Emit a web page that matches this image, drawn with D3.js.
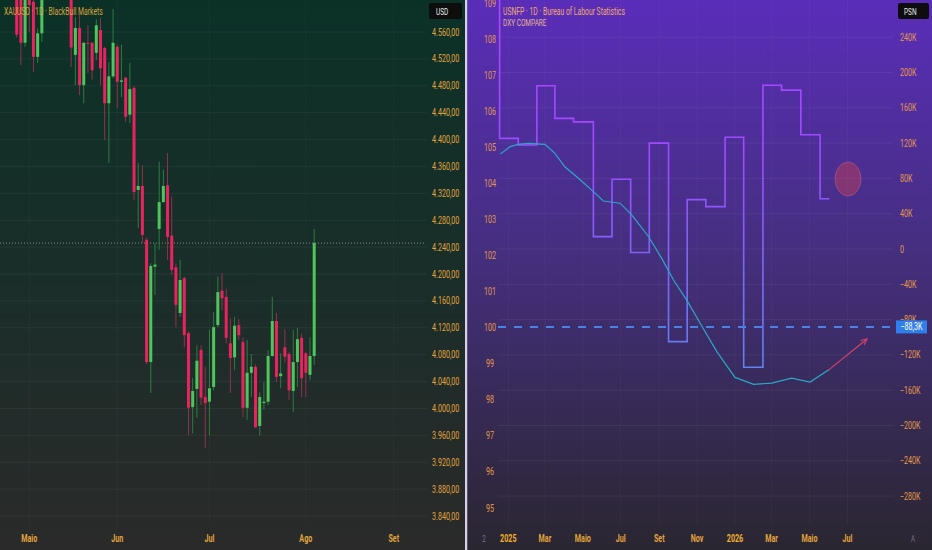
<!DOCTYPE html>
<html><head><meta charset="utf-8">
<script src="https://cdn.jsdelivr.net/npm/d3@7/dist/d3.min.js"></script>
<style>html,body{margin:0;padding:0;background:#222;}svg{display:block;}text{font-family:Roboto,"Noto Sans",sans-serif;}</style>
</head><body><svg id="c" width="932" height="550"></svg>
<script>
// ---------- LEFT PANE DATA (XAUUSD daily candles) ----------
const opens  = [4625,4615,4544,4640,4605,4523,4558,4615,4650,4680,4655,4665,4645,4625,4526,4566,4481,4544,4544,4529,4563,4536,4454,4494,4538,4486,4492,4437,4477,4325,4331,4251,4069,4211,4267,4307,4332,4257,4210,4142,4194,4112,4002,4029,4087,4017,4010,4032,4124,4175,4166,4097,4076,4124,4099,4001,4053,4062,3974,4008,4010,4078,4130,4048,4091,4081,4026,4069,4105,4082,4050,4078];
const highs  = [4640,4630,4635,4650,4625,4565,4625,4660,4690,4700,4675,4690,4660,4635,4582,4585,4545,4570,4545,4579,4581,4538,4515,4594,4541,4541,4493,4514,4480,4365,4362,4254,4216,4246,4367,4355,4380,4315,4216,4221,4196,4114,4045,4094,4094,4062,4117,4143,4196,4201,4178,4134,4136,4133,4106,4102,4081,4065,4024,4039,4087,4166,4142,4082,4118,4084,4117,4120,4111,4084,4106,4267];
const lows   = [4552,4511,4538,4560,4500,4514,4545,4612,4635,4640,4625,4640,4615,4508,4481,4466,4454,4499,4489,4518,4481,4399,4365,4491,4447,4463,4426,4425,4310,4268,4246,4066,4023,4169,4236,4306,4221,4199,4121,4136,4091,3960,3963,3986,4005,3941,3960,4027,4121,4146,4097,4023,4057,4102,3987,3983,4017,3971,3960,3998,4005,4077,4039,4030,4068,4013,3995,4032,4017,4017,4042,4065];
const closes = [4556,4544,4620,4600,4523,4558,4610,4650,4680,4655,4665,4645,4630,4537,4566,4481,4544,4543,4503,4570,4506,4454,4494,4544,4486,4488,4434,4475,4322,4331,4258,4069,4212,4214,4307,4331,4255,4206,4154,4191,4109,4001,4026,4071,4016,4008,4030,4121,4173,4164,4105,4075,4123,4109,4001,4053,4062,3972,4017,4010,4078,4130,4047,4052,4077,4027,4069,4103,4045,4053,4078,4246];
const priceTicks = [3840,3880,3920,3960,4000,4040,4080,4120,4160,4200,4240,4280,4320,4360,4400,4440,4480,4520,4560];
const leftTickIdx = [3,24,46,69,90];
const leftTickLabels = ["Maio","Jun","Jul","Ago","Set"];
const lastPrice = 4246;

// ---------- RIGHT PANE DATA (USNFP steps + DXY compare) ----------
const nfpDates = ["2024-12-18","2025-01-17","2025-02-16","2025-03-17","2025-04-16","2025-05-18","2025-06-17","2025-07-17","2025-08-16","2025-09-16","2025-10-16","2025-11-15","2025-12-16","2026-01-15","2026-02-15","2026-03-17","2026-04-17","2026-05-18"];
const nfpValues = [125.4,117.8,185,148,144,14,79,-4,120,-105,56,48,126.6,-134,185.5,180,129.5,57]; // thousands
const nfpPrevValue = 320; // value before the first step (off the top of the chart)
const nfpEndDate = "2026-06-02";
const nfpCurrent = -88.3;
const dxyDates = ["2024-12-19","2025-01-04","2025-01-17","2025-02-02","2025-03-01","2025-03-17","2025-04-02","2025-04-24","2025-05-18","2025-06-03","2025-06-30","2025-07-19","2025-08-15","2025-09-05","2025-09-24","2025-10-15","2025-11-09","2025-12-03","2026-01-01","2026-01-31","2026-03-01","2026-04-02","2026-05-02","2026-06-01"];
const dxyValues = [104.81,105.02,105.08,105.11,105.08,104.83,104.46,104.14,103.77,103.51,103.45,103.12,102.52,101.92,101.32,100.77,100.03,99.33,98.62,98.43,98.46,98.60,98.49,98.83];
const arrowEnd = {date:"2026-08-01", value:99.68};
const circleMark = {date:"2026-07-02", value:79.3};
const dxyTicks = [95,96,97,98,99,100,101,102,103,104,105,106,107,108,109];
const psnTicks = [-280,-240,-200,-160,-120,-80,-40,0,40,80,120,160,200,240];
const rightTickDates = ["2025-01-01","2025-03-01","2025-05-01","2025-07-01","2025-09-01","2025-11-01","2026-01-01","2026-03-01","2026-05-01","2026-07-01"];
const rightTickLabels = ["2025","Mar","Maio","Jul","Set","Nov","2026","Mar","Maio","Jul"];

const svg = d3.select("#c");
const defs = svg.append("defs");
const COND = 0.68;
function condense(sel){ sel.each(function(){ const w=this.getComputedTextLength(); if(w>0) d3.select(this).attr("textLength", w*COND).attr("lengthAdjust","spacingAndGlyphs"); }); return sel; }
const parse = d3.timeParse("%Y-%m-%d");

// ===== LEFT PANE =====
const lg = defs.append("linearGradient").attr("id","lbg").attr("x1",0).attr("y1",0).attr("x2",0).attr("y2",1);
lg.append("stop").attr("offset","0").attr("stop-color","#0b3127");
lg.append("stop").attr("offset","0.5").attr("stop-color","#1a2e29");
lg.append("stop").attr("offset","1").attr("stop-color","#2a2a2a");
svg.append("rect").attr("x",0).attr("y",0).attr("width",466).attr("height",550).attr("fill","url(#lbg)");

const xL = d3.scaleLinear().domain([0,90]).range([16.7,393.8]);
const yL = d3.scaleLinear().domain([3840,4560]).range([516,32]);
defs.append("clipPath").attr("id","lclip").append("rect").attr("x",0).attr("y",0).attr("width",426).attr("height",525);

const L = svg.append("g");
L.selectAll("line.hg").data(priceTicks).join("line").attr("x1",0).attr("x2",427)
  .attr("y1",d=>yL(d)).attr("y2",d=>yL(d)).attr("stroke","rgba(255,255,255,0.055)");
L.selectAll("line.vg").data(leftTickIdx).join("line").attr("x1",d=>xL(d)).attr("x2",d=>xL(d))
  .attr("y1",0).attr("y2",525).attr("stroke","rgba(255,255,255,0.03)");

L.append("line").attr("x1",0).attr("x2",426).attr("y1",yL(lastPrice)).attr("y2",yL(lastPrice))
  .attr("stroke","#8a8a7a").attr("stroke-dasharray","1,2").attr("stroke-width",1);

const candles = opens.map((o,i)=>({i,o,h:highs[i],l:lows[i],c:closes[i]}));
const cg = L.append("g").attr("clip-path","url(#lclip)");
cg.selectAll("line.wk").data(candles).join("line")
  .attr("x1",d=>xL(d.i)).attr("x2",d=>xL(d.i)).attr("y1",d=>yL(d.h)).attr("y2",d=>yL(d.l))
  .attr("stroke",d=>d.c>=d.o?"#2f7c40":"#93304f").attr("stroke-width",1);
cg.selectAll("rect.bd").data(candles).join("rect")
  .attr("x",d=>xL(d.i)-1.5).attr("width",3)
  .attr("y",d=>yL(Math.max(d.o,d.c))).attr("height",d=>Math.max(1,Math.abs(yL(d.o)-yL(d.c))))
  .attr("fill",d=>d.c>=d.o?"#4fc65c":"#e8235f");

const fmtPt = d3.formatLocale({decimal:",",thousands:".",grouping:[3],currency:["",""]}).format(",.2f");
condense(L.selectAll("text.pt").data(priceTicks).join("text").attr("x",432).attr("y",d=>yL(d)+3.5)
  .attr("font-size",10.5).attr("fill","#e3a53c").text(d=>fmtPt(d)));
condense(L.selectAll("text.xt").data(leftTickIdx).join("text").attr("x",d=>xL(d)).attr("y",542)
  .attr("text-anchor","middle").attr("font-size",10.5).attr("font-weight","bold").attr("fill","#e3a53c").text((d,i)=>leftTickLabels[i]));
condense(L.append("text").attr("x",4).attr("y",14.5).attr("font-size",10).attr("fill","#d9a43c").text("XAUUSD · 1D · BlackBull Markets"));
L.append("rect").attr("x",429).attr("y",3).attr("width",33).attr("height",16).attr("rx",2).attr("fill","#0d0d0d");
condense(L.append("text").attr("x",436).attr("y",14.5).attr("font-size",9.5).attr("fill","#e8e8e8").text("USD"));

// divider
svg.append("rect").attr("x",465).attr("y",0).attr("width",2.5).attr("height",550).attr("fill","#d6d0ea");

// ===== RIGHT PANE =====
const rg = defs.append("linearGradient").attr("id","rbg").attr("x1",0).attr("y1",0).attr("x2",0).attr("y2",1);
rg.append("stop").attr("offset","0").attr("stop-color","#5a2db9");
rg.append("stop").attr("offset","0.45").attr("stop-color","#452f80");
rg.append("stop").attr("offset","1").attr("stop-color","#2a2630");
svg.append("rect").attr("x",467.5).attr("y",0).attr("width",465).attr("height",550).attr("fill","url(#rbg)");

const xR = d3.scaleTime().domain([parse("2025-01-01"),parse("2026-01-01")]).range([508.3,735]);
const yP = d3.scaleLinear().domain([-280,240]).range([496.1,37.2]);
const yD = d3.scaleLinear().domain([95,109]).range([508,3]);
defs.append("clipPath").attr("id","rclip").append("rect").attr("x",468).attr("y",0).attr("width",426).attr("height",525);

const R = svg.append("g");
R.selectAll("line.hg").data(psnTicks).join("line").attr("x1",498).attr("x2",893)
  .attr("y1",d=>yP(d)).attr("y2",d=>yP(d)).attr("stroke","rgba(255,255,255,0.06)");
R.selectAll("line.vg").data(rightTickDates).join("line").attr("x1",d=>xR(parse(d))).attr("x2",d=>xR(parse(d)))
  .attr("y1",0).attr("y2",525).attr("stroke","rgba(255,255,255,0.035)");

const sg = defs.append("linearGradient").attr("id","stepg").attr("gradientUnits","userSpaceOnUse")
  .attr("x1",0).attr("y1",0).attr("x2",0).attr("y2",380);
sg.append("stop").attr("offset","0").attr("stop-color","#b044ff");
sg.append("stop").attr("offset","0.45").attr("stop-color","#9a4cff");
sg.append("stop").attr("offset","1").attr("stop-color","#5a86f0");

const rc = R.append("g").attr("clip-path","url(#rclip)");
const stepPts = [[parse(nfpDates[0]), nfpPrevValue]].concat(nfpDates.map((d,i)=>[parse(d), nfpValues[i]]), [[parse(nfpEndDate), nfpValues[nfpValues.length-1]]]);
const stepLine = d3.line().x(d=>xR(d[0])).y(d=>yP(d[1])).curve(d3.curveStepAfter);
rc.append("path").attr("d",stepLine(stepPts)).attr("fill","none").attr("stroke","url(#stepg)").attr("stroke-width",1.6);

// dashed current-value line
rc.append("line").attr("x1",498).attr("x2",896).attr("y1",yP(nfpCurrent)).attr("y2",yP(nfpCurrent))
  .attr("stroke","#4b82ea").attr("stroke-width",2).attr("stroke-dasharray","8,8");

// DXY line
const dxyLine = d3.line().x(d=>xR(d[0])).y(d=>yD(d[1]));
rc.append("path").attr("d",dxyLine(dxyDates.map((d,i)=>[parse(d),dxyValues[i]]))).attr("fill","none")
  .attr("stroke","#2aa8c6").attr("stroke-width",1.2);

// arrow
defs.append("marker").attr("id","ah").attr("viewBox","0 0 10 10").attr("refX",8).attr("refY",5)
  .attr("markerWidth",6).attr("markerHeight",6).attr("orient","auto")
  .append("path").attr("d","M0,1 L9,5 L0,9").attr("fill","none").attr("stroke","#d8406f").attr("stroke-width",1.5);
const lastD = dxyDates.length-1;
rc.append("line").attr("x1",xR(parse(dxyDates[lastD]))).attr("y1",yD(dxyValues[lastD]))
  .attr("x2",xR(parse(arrowEnd.date))).attr("y2",yD(arrowEnd.value))
  .attr("stroke","#d8406f").attr("stroke-width",1.2).attr("marker-end","url(#ah)");

// circle annotation
rc.append("ellipse").attr("cx",xR(parse(circleMark.date))).attr("cy",yP(circleMark.value)).attr("rx",13).attr("ry",17)
  .attr("fill","rgba(190,60,90,0.5)").attr("stroke","rgba(230,120,140,0.35)").attr("stroke-width",1);

// axes labels
condense(R.selectAll("text.dx").data(dxyTicks).join("text").attr("x",490).attr("y",d=>yD(d)+3.5)
  .attr("text-anchor","middle").attr("font-size",10.5).attr("fill","#e39a4c").text(d=>d));
const fmtK = v => v===0 ? "0" : (v<0?"\u2212":"") + Math.abs(v) + "K";
condense(R.selectAll("text.ps").data(psnTicks).join("text").attr("x",900).attr("y",d=>yP(d)+3.5)
  .attr("font-size",10.5).attr("fill","#e39a4c").text(d=>fmtK(d)));
condense(R.selectAll("text.xt").data(rightTickDates).join("text").attr("x",d=>xR(parse(d))).attr("y",542)
  .attr("text-anchor","middle").attr("font-size",10.5)
  .attr("font-weight","bold")
  .attr("fill",(d,i)=>/^\d{4}$/.test(rightTickLabels[i])?"#f2b02e":"#e3a53c").text((d,i)=>rightTickLabels[i]));
condense(R.append("text").attr("x",484).attr("y",542).attr("text-anchor","middle").attr("font-size",9).attr("fill","#77728a").text("2"));
condense(R.append("text").attr("x",913).attr("y",542).attr("text-anchor","middle").attr("font-size",9).attr("fill","#77728a").text("A"));

// current value label
const cy = yP(nfpCurrent);
R.append("rect").attr("x",896).attr("y",cy-6.5).attr("width",31).attr("height",13).attr("fill","#2f7fea");
condense(R.append("text").attr("x",911.5).attr("y",cy+3.5).attr("text-anchor","middle").attr("font-size",10.5).attr("fill","#ffffff").text("\u221288,3K"));

// titles
condense(R.append("text").attr("x",503).attr("y",14.5).attr("font-size",10).attr("fill","#f0aa6a").text("USNFP · 1D · Bureau of Labour Statistics"));
condense(R.append("text").attr("x",503).attr("y",25.5).attr("font-size",9.5).attr("fill","#e9b48e").text("DXY COMPARE"));
R.append("rect").attr("x",898).attr("y",3).attr("width",31).attr("height",16).attr("rx",2).attr("fill","#0d0d0d");
condense(R.append("text").attr("x",904).attr("y",14.5).attr("font-size",9.5).attr("fill","#e8e8e8").text("PSN"));
</script></body></html>
